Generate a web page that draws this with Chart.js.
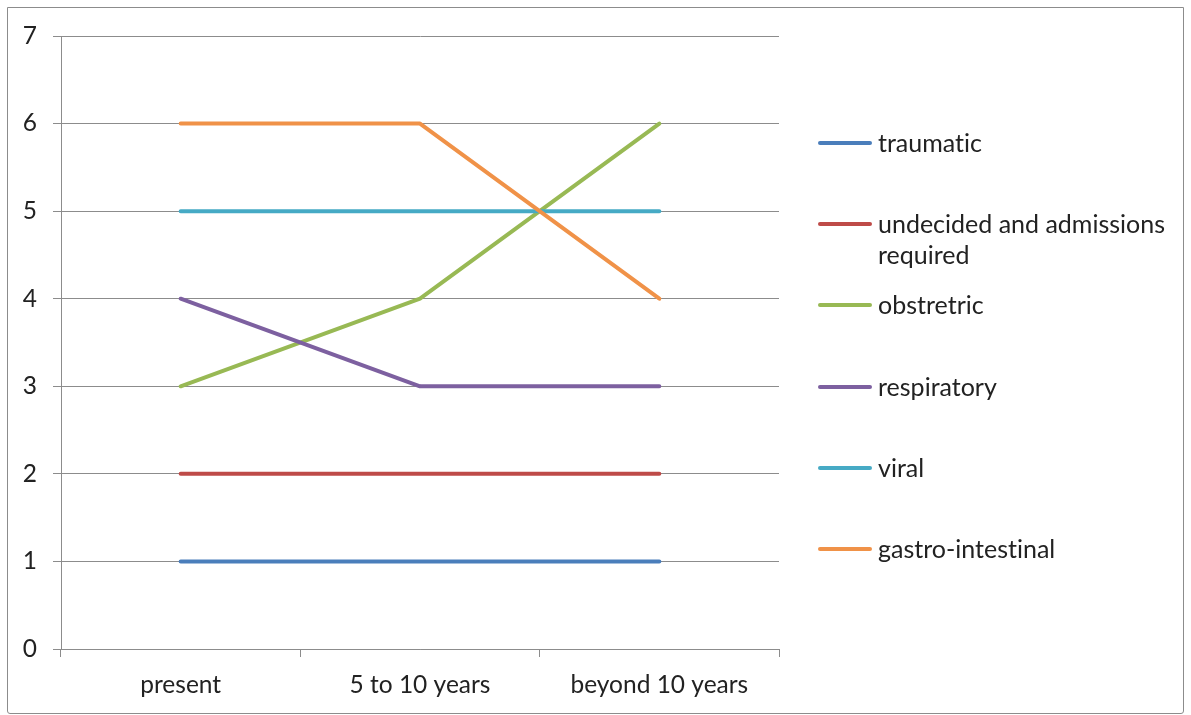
<!DOCTYPE html>
<html>
<head>
<meta charset="utf-8">
<script src="https://cdn.jsdelivr.net/npm/chart.js@4/dist/chart.umd.min.js"></script>
<style>
  html, body { margin: 0; padding: 0; background: #fff; }
  body { width: 1191px; height: 715px; position: relative; overflow: hidden; font-family: Lato, "Open Sans", sans-serif; }
  #frame { position: absolute; left: 7px; top: 7px; width: 1177px; height: 707px; border: 1px solid #8c8c8c; border-radius: 0 0 3px 3px; box-sizing: border-box; }
  #wrap { position: absolute; left: 0; top: 0; width: 1191px; height: 715px; }
  #legend { position: absolute; left: 818px; top: 0; width: 370px; }
  .item { position: absolute; left: 0; display: flex; align-items: flex-start; }
  .swatch { width: 54px; height: 4px; margin-top: 14px; border-radius: 2px; flex: none; }
  .label { margin-left: 6px; font-size: 25px; line-height: 31px; color: #222; width: 300px; font-variant-ligatures: none; font-feature-settings: "liga" 0, "clig" 0; }
</style>
</head>
<body>
<div id="frame"></div>
<div id="wrap"><canvas id="c" width="1191" height="715"></canvas></div>
<div id="legend"></div>
<script>
const categories = ["present", "5 to 10 years", "beyond 10 years"];
const seriesNames = ["traumatic", "undecided and admissions required", "obstretric", "respiratory", "viral", "gastro-intestinal"];
const traumatic = [1, 1, 1];
const undecided = [2, 2, 2];
const obstretric = [3, 4, 6];
const respiratory = [4, 3, 3];
const viral = [5, 5, 5];
const gastro = [6, 6, 4];
const yTicks = [0, 1, 2, 3, 4, 5, 6, 7];
const colors = ["#4A7EBB", "#BE4B48", "#98B954", "#7D60A0", "#46AAC5", "#F09248"];

const seriesValues = [traumatic, undecided, obstretric, respiratory, viral, gastro];
const n = seriesValues.length;
const datasets = seriesValues.map((vals, i) => ({
  label: seriesNames[i],
  data: vals,
  borderColor: colors[i],
  backgroundColor: colors[i],
  borderWidth: 4,
  borderCapStyle: 'round',
  borderJoinStyle: 'round',
  pointRadius: 0,
  pointHoverRadius: 0,
  tension: 0,
  fill: false,
  order: n - 1 - i
}));

const textColor = "#222";
const gridColor = "#8c8c8c";
const font = { family: "Lato, 'Open Sans', sans-serif", size: 24.5 };

new Chart(document.getElementById('c'), {
  type: 'line',
  data: { labels: categories, datasets },
  options: {
    responsive: false,
    animation: false,
    devicePixelRatio: 1,
    layout: { padding: { left: 0, right: 412, top: 36, bottom: 0 } },
    plugins: { legend: { display: false }, tooltip: { enabled: false } },
    scales: {
      x: {
        offset: true,
        grid: { display: true, drawOnChartArea: false, drawTicks: true, tickLength: 8, color: gridColor, offset: true },
        border: { display: true, color: gridColor, width: 1 },
        ticks: { color: textColor, font, padding: 13, maxRotation: 0 },
        afterFit: (s) => { s.height = 66; }
      },
      y: {
        min: 0, max: 7,
        afterBuildTicks: (s) => { s.ticks = yTicks.map(v => ({ value: v })); },
        grid: { display: true, drawOnChartArea: true, drawTicks: true, tickLength: 8, color: gridColor, lineWidth: 1 },
        border: { display: true, color: gridColor, width: 1 },
        ticks: { color: textColor, font, padding: 16 },
        afterFit: (s) => { s.width = 61; }
      }
    }
  }
});

const legend = document.getElementById('legend');
seriesNames.forEach((name, i) => {
  const it = document.createElement('div');
  it.className = 'item';
  it.style.top = (127 + i * 81.2) + 'px';
  const sw = document.createElement('div');
  sw.className = 'swatch';
  sw.style.background = colors[i];
  const lb = document.createElement('div');
  lb.className = 'label';
  lb.textContent = name;
  it.appendChild(sw);
  it.appendChild(lb);
  legend.appendChild(it);
});
</script>
</body>
</html>
